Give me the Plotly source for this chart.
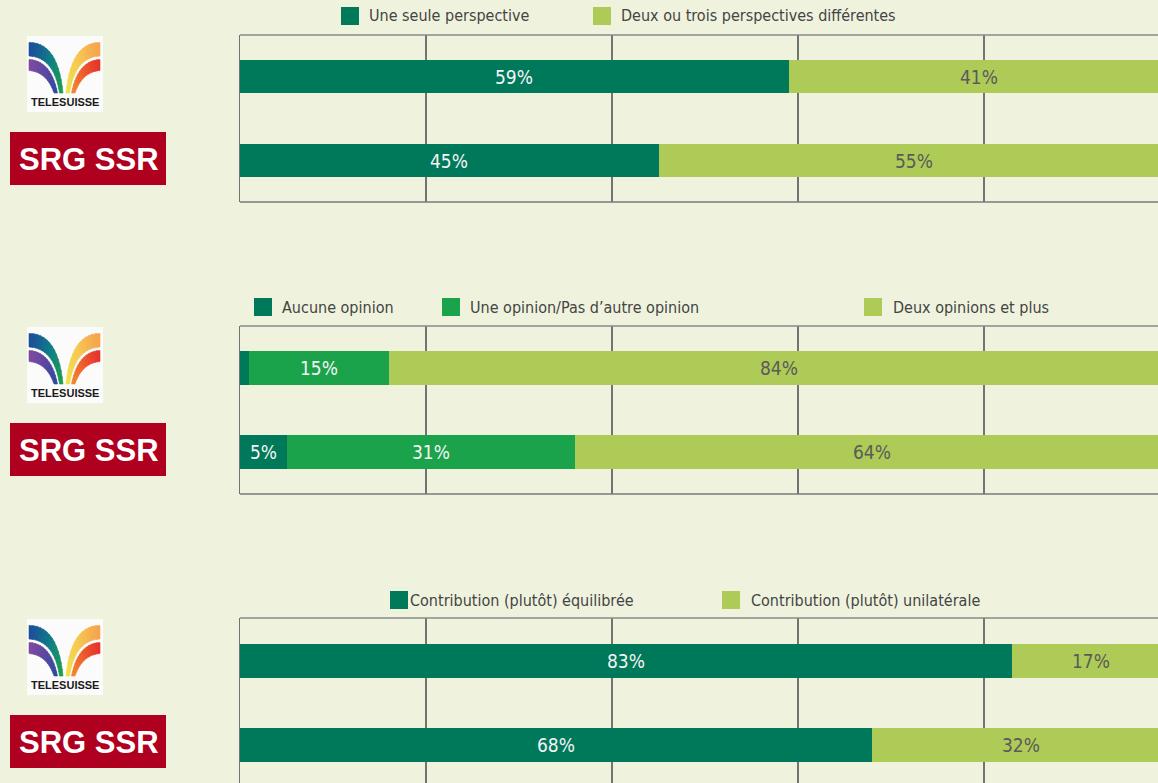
import plotly.graph_objects as go

# ---------------- data ----------------
rows = ["TELESUISSE", "SRG SSR"]

p1_series = ["Une seule perspective", "Deux ou trois perspectives différentes"]
p1_telesuisse = [59, 41]
p1_srg = [45, 55]

p2_series = ["Aucune opinion", "Une opinion/Pas d’autre opinion", "Deux opinions et plus"]
p2_telesuisse = [1, 15, 84]
p2_srg = [5, 31, 64]

p3_series = ["Contribution (plutôt) équilibrée", "Contribution (plutôt) unilatérale"]
p3_telesuisse = [83, 17]
p3_srg = [68, 32]

x_ticks = [0, 20, 40, 60, 80, 100]

# ---------------- styles ----------------
W, H = 1158, 783
L = 240
BG = "#EFF3DE"
DARK = "#00785A"
MID = "#1AA34A"
LIGHT = "#AECB57"
GRID = "#737373"
LABEL_FONT = "DejaVu Sans Condensed, Liberation Sans Narrow, sans-serif"
LEG_FONT = "DejaVu Sans Condensed, Liberation Sans Narrow, sans-serif"

def px_x(px):
    return (px - L) / (W - L)

def px_y(py):
    return (H - py) / H

panels = [
    dict(series=p1_series, tele=p1_telesuisse, srg=p1_srg, colors=[DARK, LIGHT],
         top=35, bottom=202, yrange=[-0.494, 1.494],
         legend=[(341, 367), (593, 619)], legy=16),
    dict(series=p2_series, tele=p2_telesuisse, srg=p2_srg, colors=[DARK, MID, LIGHT],
         top=326, bottom=494, yrange=[-0.494, 1.494],
         legend=[(254, 280), (442, 468), (864, 891)], legy=307),
    dict(series=p3_series, tele=p3_telesuisse, srg=p3_srg, colors=[DARK, LIGHT],
         top=618, bottom=783, yrange=[-0.452, 1.512],
         legend=[(390, 408), (722, 749)], legy=600),
]
panel_offsets = [0, 291, 583]

fig = go.Figure()
annotations = []
shapes = []
layout_axes = {}

xmax = 100 * (W - L) / 930.0

for i, p in enumerate(panels):
    n = i + 1
    xa = "x" if n == 1 else f"x{n}"
    ya = "y" if n == 1 else f"y{n}"
    cum_t, cum_s = 0, 0
    for j, name in enumerate(p["series"]):
        vt, vs = p["tele"][j], p["srg"][j]
        fig.add_trace(go.Bar(
            x=[vt, vs], y=[1, 0], orientation="h", name=name,
            marker=dict(color=p["colors"][j], line=dict(width=0)),
            width=0.4, xaxis=xa, yaxis=ya, showlegend=False, hoverinfo="skip",
        ))
        txtcol = "#F4F4F4" if p["colors"][j] != LIGHT else "#5A5A5A"
        for v, c, yy in [(vt, cum_t, 1), (vs, cum_s, 0)]:
            if v >= 3:
                annotations.append(dict(
                    x=c + v / 2, y=yy, xref=xa, yref=ya, text=f"{v}%",
                    showarrow=False, font=dict(family=LABEL_FONT, size=19, color=txtcol),
                    xanchor="center", yanchor="middle"))
        cum_t += vt
        cum_s += vs

    # axes
    layout_axes["xaxis" if n == 1 else f"xaxis{n}"] = dict(
        domain=[0, 1], range=[0, xmax], tickvals=x_ticks, showticklabels=False,
        showgrid=True, gridcolor=GRID, gridwidth=1.5, zeroline=False,
        showline=False, anchor=ya, fixedrange=True, ticks="")
    layout_axes["yaxis" if n == 1 else f"yaxis{n}"] = dict(
        domain=[max(0, px_y(p["bottom"])), px_y(p["top"])], range=p["yrange"],
        showticklabels=False, showgrid=False, zeroline=False, showline=True,
        linecolor=GRID, linewidth=1.5, anchor=xa, fixedrange=True, ticks="")

    # box top / bottom lines
    dref_x = f"{xa} domain"
    dref_y = f"{ya} domain"
    shapes.append(dict(type="line", xref=dref_x, yref=dref_y, x0=0, x1=1, y0=1, y1=1,
                       line=dict(color="#8A8A8A", width=1.5), layer="above"))
    if p["bottom"] < H:
        shapes.append(dict(type="line", xref=dref_x, yref=dref_y, x0=0, x1=1, y0=0, y1=0,
                           line=dict(color="#7A7A7A", width=1.5), layer="above"))

    # legend (swatch + text)
    for j, name in enumerate(p["series"]):
        sx, tx = p["legend"][j]
        cy = p["legy"]
        shapes.append(dict(type="rect", xref="paper", yref="paper",
                           x0=px_x(sx), x1=px_x(sx + 18), y0=px_y(cy - 9), y1=px_y(cy + 9),
                           fillcolor=p["colors"][j], line=dict(width=0)))
        annotations.append(dict(x=px_x(tx), y=px_y(cy), xref="paper", yref="paper",
                                text=name, showarrow=False, xanchor="left", yanchor="middle",
                                font=dict(family=LEG_FONT, size=16, color="#444444")))

# ---------------- logos ----------------
def qbez(p0, p1, p2, t):
    return ((1 - t) ** 2 * p0[0] + 2 * (1 - t) * t * p1[0] + t ** 2 * p2[0],
            (1 - t) ** 2 * p0[1] + 2 * (1 - t) * t * p1[1] + t ** 2 * p2[1])

def hex2rgb(h):
    h = h.lstrip("#")
    return [int(h[k:k + 2], 16) for k in (0, 2, 4)]

def grad(stops, t):
    seg = (len(stops) - 1) * t
    k = min(int(seg), len(stops) - 2)
    f = seg - k
    a, b = hex2rgb(stops[k]), hex2rgb(stops[k + 1])
    return "rgb(%d,%d,%d)" % tuple(round(a[m] + (b[m] - a[m]) * f) for m in range(3))

def band(edge1, edge2, stops, dy, mirror=False, nseg=14):
    out = []
    def tr(pt):
        x, y = pt
        if mirror:
            x = 129 - x
        return px_x(x), px_y(y + dy)
    for k in range(nseg):
        t0, t1 = k / nseg, (k + 1) / nseg + 0.01
        a0 = tr(qbez(*edge1, t0)); a1 = tr(qbez(*edge1, min(t1, 1)))
        b1 = tr(qbez(*edge2, min(t1, 1))); b0 = tr(qbez(*edge2, t0))
        path = "M %f,%f L %f,%f L %f,%f L %f,%f Z" % (a0 + a1 + b1 + b0)
        c = grad(stops, (k + 0.5) / nseg)
        out.append(dict(type="path", xref="paper", yref="paper", path=path,
                        fillcolor=c, line=dict(width=0.6, color=c), layer="above"))
    return out

outer_top = [(29, 42.5), (58, 42), (63, 93)]
outer_bot = [(29, 56), (54, 57), (59.5, 93)]
inner_top = [(29, 59.5), (51, 60.5), (57.5, 93)]
inner_bot = [(29, 70.5), (47, 72), (54, 93)]

for dy in panel_offsets:
    shapes.append(dict(type="rect", xref="paper", yref="paper",
                       x0=px_x(27), x1=px_x(103), y0=px_y(112 + dy), y1=px_y(36 + dy),
                       fillcolor="#FBFBFB", line=dict(width=0), layer="above"))
    shapes += band(outer_top, outer_bot, ["#1E4B9C", "#0E7F86", "#1F9E4E"], dy)
    shapes += band(inner_top, inner_bot, ["#8149A0", "#5A46A0", "#2F4A9C"], dy)
    shapes += band(outer_top, outer_bot, ["#F6A24E", "#F7C752", "#F0E24C"], dy, mirror=True)
    shapes += band(inner_top, inner_bot, ["#E5302C", "#EE5A2C", "#F3872E"], dy, mirror=True)
    annotations.append(dict(x=px_x(64.5), y=px_y(102 + dy), xref="paper", yref="paper",
                            text="<b>TELESUISSE</b>", showarrow=False,
                            xanchor="center", yanchor="middle",
                            font=dict(family="Liberation Sans, Arial, sans-serif",
                                      size=11, color="#1A1A1A")))
    shapes.append(dict(type="rect", xref="paper", yref="paper",
                       x0=px_x(10), x1=px_x(166), y0=px_y(185 + dy), y1=px_y(132 + dy),
                       fillcolor="#AF0020", line=dict(width=0), layer="above"))
    annotations.append(dict(x=px_x(89), y=px_y(159 + dy), xref="paper", yref="paper",
                            text="<b>SRG SSR</b>", showarrow=False,
                            xanchor="center", yanchor="middle",
                            font=dict(family="Liberation Sans, Arial, sans-serif",
                                      size=31, color="#FFFFFF")))

fig.update_layout(
    width=W, height=H,
    margin=dict(l=L, r=0, t=0, b=0),
    paper_bgcolor=BG, plot_bgcolor=BG,
    barmode="stack", bargap=0,
    showlegend=False,
    annotations=annotations,
    shapes=shapes,
    **layout_axes,
)

fig.write_html("out.html",
               config={"displayModeBar": False, "staticPlot": True},
               post_script="document.body.style.margin='0';document.body.style.background='%s';" % BG)
